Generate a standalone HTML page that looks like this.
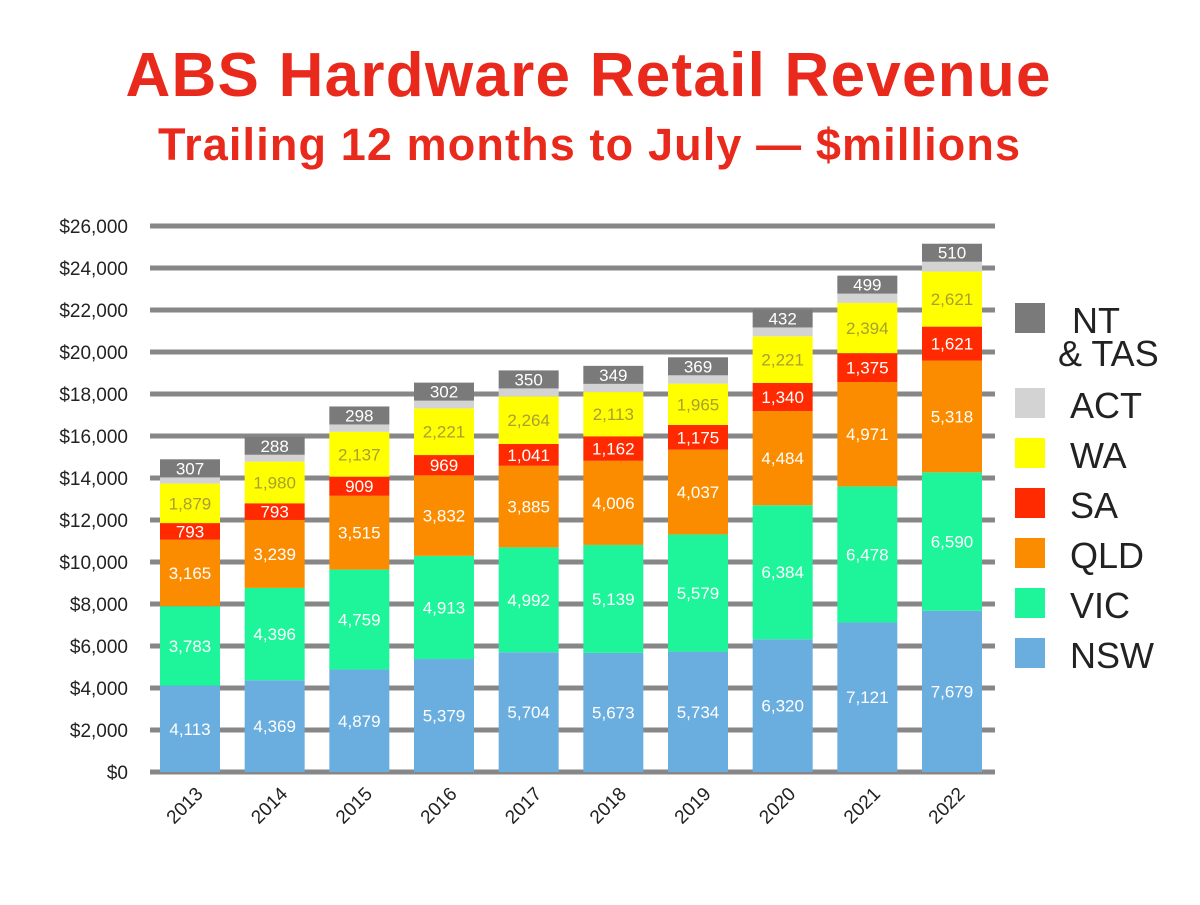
<!DOCTYPE html>
<html><head><meta charset="utf-8"><style>
body{margin:0;background:#fff;width:1200px;height:900px;overflow:hidden;font-family:"Liberation Sans",sans-serif}
</style></head><body>
<svg id="chart" width="1200" height="900" xmlns="http://www.w3.org/2000/svg">
<text x="588" y="96" text-anchor="middle" font-size="62" font-weight="bold" fill="#e8291c" textLength="925">ABS Hardware Retail Revenue</text>
<text x="589" y="160" text-anchor="middle" font-size="45" font-weight="bold" fill="#e8291c" textLength="862">Trailing 12 months to July — $millions</text>
<g id="grid"></g><g id="bars"></g><g id="legend"></g>
</svg>
<script>
const years=["2013","2014","2015","2016","2017","2018","2019","2020","2021","2022"];
const nsw=[4113,4369,4879,5379,5704,5673,5734,6320,7121,7679];
const vic=[3783,4396,4759,4913,4992,5139,5579,6384,6478,6590];
const qld=[3165,3239,3515,3832,3885,4006,4037,4484,4971,5318];
const sa=[793,793,909,969,1041,1162,1175,1340,1375,1621];
const wa=[1879,1980,2137,2221,2264,2113,1965,2221,2394,2621];
const act=[300,330,350,370,380,390,400,420,440,470];
const ntTas=[307,288,298,302,350,349,369,432,499,510];
const yTicks=[0,2000,4000,6000,8000,10000,12000,14000,16000,18000,20000,22000,24000,26000];
const seriesNames=["NSW","VIC","QLD","SA","WA","ACT","NT & TAS"];
const colors=["#6aaedf","#1ef59a","#fb8c00","#ff2a00","#ffff00","#d3d3d3","#7a7a7a"];
const series=[nsw,vic,qld,sa,wa,act,ntTas];
const NS="http://www.w3.org/2000/svg";
const y0=772,yTop=226,vmax=26000,xL=150,xR=995,bw=60;
const yS=v=>y0-(v/vmax)*(y0-yTop);
const step=(952-190)/9;
const xS=i=>190+i*step;
function mk(tag,attrs,parent){const e=document.createElementNS(NS,tag);for(const k in attrs)e.setAttribute(k,attrs[k]);parent.appendChild(e);return e;}
const grid=document.getElementById('grid');
yTicks.forEach(t=>{
  const l=mk('line',{x1:xL,x2:xR,y1:yS(t),y2:yS(t),stroke:'#878787','stroke-width':5},grid);
  
  
  const tx=mk('text',{x:128,y:yS(t)+7,'text-anchor':'end','font-size':19,fill:'#222'},grid);
  tx.textContent='$'+t.toLocaleString('en-US');
  
  
});
const bars=document.getElementById('bars');
years.forEach((yr,i)=>{
  let cum=0;const cx=xS(i);
  series.forEach((s,k)=>{
    const v=s[i];const yb=yS(cum);let yt=yS(cum+v);cum+=v;
    if(k===6) yt=Math.min(yt,yb-18);
    const r=mk('rect',{x:cx-bw/2,y:yt,width:bw,height:yb-yt,fill:colors[k]},bars);
    
    
    if(k!==5){
      const t=mk('text',{x:cx,y:(yt+yb)/2+6,'text-anchor':'middle','font-size':17,fill:k===4?'#a8a030':'#fff'},bars);
      t.textContent=v.toLocaleString('en-US');
      
      
    }
  });
  const xl=mk('text',{x:0,y:0,'text-anchor':'end','font-size':19,fill:'#222',transform:`translate(${cx+14},${795}) rotate(-45)`},bars);
  xl.textContent=yr;
  
  
});
const lg=document.getElementById('legend');
const legY=[320,405,455,505,555,605,655];
const order=[6,5,4,3,2,1,0];
order.forEach((k,j)=>{
  const yy=legY[j];
  const r=mk('rect',{x:1015,y:yy-17,width:30,height:30,fill:colors[k]},lg);
  
  
  const t=mk('text',{x:k===6?1072:1070,y:yy+13,'font-size':36,fill:'#222'},lg);
  
  
  if(k===6){t.textContent='NT';
    const t2=mk('text',{x:1058,y:366,'font-size':36,fill:'#222'},lg);t2.textContent='& TAS';
    
    
  } else t.textContent=seriesNames[k];
});
</script>
</body></html>
